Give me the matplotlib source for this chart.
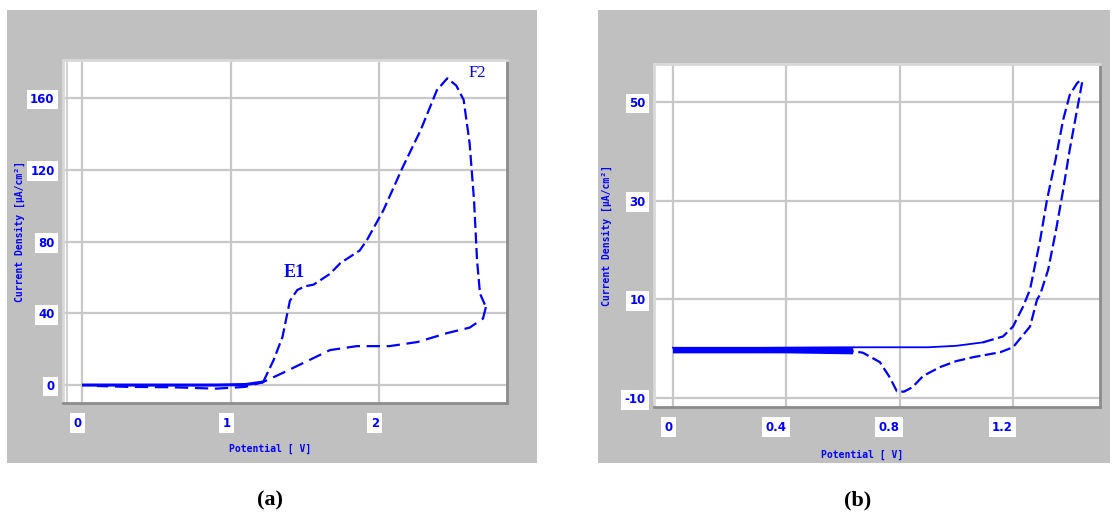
import matplotlib
matplotlib.use("Agg")
import matplotlib.pyplot as plt
from matplotlib.patches import Rectangle

# ---------------- data ----------------
# Panel (a)
a_fwd_x = [0.0, 0.3, 0.6, 0.9, 1.1, 1.22, 1.29, 1.35, 1.40, 1.45, 1.50, 1.56, 1.67, 1.74,
           1.87, 1.92, 2.03, 2.16, 2.28, 2.39, 2.46, 2.52, 2.57, 2.61, 2.64, 2.66, 2.68, 2.72]
a_fwd_y = [0, 0, 0, 0, 0.3, 1.7, 13.9, 26.8, 47, 53, 55, 56, 62, 68,
           75, 81, 97.5, 121.5, 142, 164.4, 171, 167, 159, 135, 103, 70, 51, 43.5]
a_rev_x = [2.72, 2.70, 2.61, 2.46, 2.26, 2.07, 1.85, 1.67, 1.49, 1.35, 1.22, 1.1, 0.9, 0.6, 0.3, 0.1]
a_rev_y = [43.5, 37, 32, 29, 24, 21.7, 21.7, 19.5, 12.3, 6.7, 1.7, -1.0, -2.0, -1.2, -1.0, -0.5]
a_xticks = [0, 1, 2]
a_xticklabels = ["0", "1", "2"]
a_yticks = [0, 40, 80, 120, 160]
a_yticklabels = ["0", "40", "80", "120", "160"]

# Panel (b)
b_fwd_x = [0.0, 0.3, 0.6, 0.9, 1.0, 1.094, 1.165, 1.2, 1.236, 1.26, 1.296, 1.32, 1.35,
           1.377, 1.40, 1.426, 1.437]
b_fwd_y = [0.2, 0.2, 0.3, 0.3, 0.6, 1.3, 2.5, 4.5, 8.6, 12.0, 22.1, 30.2, 38.3,
           46.4, 51.4, 53.8, 54.4]
b_rev_x = [1.444, 1.426, 1.40, 1.377, 1.352, 1.324, 1.296, 1.285, 1.26, 1.2, 1.155, 1.06,
           1.0, 0.943, 0.883, 0.845, 0.815, 0.79, 0.765, 0.73, 0.67, 0.636, 0.4, 0.0]
b_rev_y = [54, 48.4, 40.3, 32.2, 24.1, 16, 11, 10, 4.5, 0.3, -0.7, -1.7,
           -2.5, -3.7, -5.5, -7.8, -8.7, -8.6, -5.8, -2.7, -0.8, -0.5, -0.3, -0.3]
b_xticks = [0, 0.4, 0.8, 1.2]
b_xticklabels = ["0", "0.4", "0.8", "1.2"]
b_yticks = [-10, 10, 30, 50]
b_yticklabels = ["-10", "10", "30", "50"]

ylabel_text = "Current Density [µA/cm²]"
xlabel_text = "Potential [ V]"

# ---------------- figure ----------------
W, H = 1117, 518
fig = plt.figure(figsize=(W / 100, H / 100), dpi=100)
fig.patch.set_facecolor("white")

def px_rect(x0, y0, x1, y1, **kw):
    return Rectangle((x0 / W, 1 - y1 / H), (x1 - x0) / W, (y1 - y0) / H,
                     transform=fig.transFigure, **kw)

fig.patches.append(px_rect(7, 10, 537, 463, facecolor="#C0C0C0", edgecolor="none", zorder=-10))
fig.patches.append(px_rect(598, 10, 1110, 463, facecolor="#C0C0C0", edgecolor="none", zorder=-10))

def make_ax(x0, y0, x1, y1):
    ax = fig.add_axes([x0 / W, 1 - y1 / H, (x1 - x0) / W, (y1 - y0) / H])
    ax.set_zorder(5)
    return ax

BLUE = "#0000FF"
GRID = "#C8C8C8"

def style_label(lbl):
    lbl.set_family("DejaVu Sans")
    lbl.set_fontsize(8.5)
    lbl.set_fontweight("bold")
    lbl.set_color(BLUE)
    lbl.set_bbox(dict(facecolor="white", edgecolor="none", pad=2.5))

def style(ax, xticks, xtl, yticks, ytl):
    ax.set_facecolor("white")
    ax.set_xticks(xticks)
    ax.set_xticklabels(xtl)
    ax.set_yticks(yticks)
    ax.set_yticklabels(ytl)
    ax.tick_params(axis="x", length=0, pad=10)
    ax.tick_params(axis="y", length=0, pad=6)
    for lbl in ax.get_xticklabels():
        lbl.set_ha("right")
        style_label(lbl)
    for lbl in ax.get_yticklabels():
        style_label(lbl)
    ax.grid(True, color=GRID, lw=1.6)
    ax.set_axisbelow(True)
    for s in ["left", "top"]:
        ax.spines[s].set_color("#D8D8D8")
        ax.spines[s].set_linewidth(2)
    for s in ["right", "bottom"]:
        ax.spines[s].set_color("#8C8C8C")
        ax.spines[s].set_linewidth(2)

# ----- panel (a) -----
axa = make_ax(63, 60, 507, 403)
axa.set_xlim(-0.128, 2.862)
axa.set_ylim(-10.0, 181.2)
style(axa, a_xticks, a_xticklabels, a_yticks, a_yticklabels)
axa.axvline(-0.1, color=GRID, lw=1.2, zorder=0)
n0 = 5
axa.plot(a_fwd_x[:n0 + 1], a_fwd_y[:n0 + 1], color=BLUE, lw=2.2, solid_capstyle="butt")
axa.plot(a_fwd_x[n0:], a_fwd_y[n0:], color=BLUE, lw=1.6, ls=(0, (5, 2)))
axa.plot(a_rev_x, a_rev_y, color=BLUE, lw=1.6, ls=(0, (6, 3)))
axa.text(1.43, 63, "E1", color=BLUE, fontsize=13, fontweight="bold",
         family="Liberation Serif", ha="center", va="center")
axa.text(2.66, 174, "F2", color=BLUE, fontsize=12,
         family="Liberation Serif", ha="center", va="center")
fig.text(20 / W, 1 - 232 / H, ylabel_text, rotation=90, color=BLUE, fontsize=7,
         fontweight="bold", family="DejaVu Sans Mono", ha="center", va="center")
fig.text(270 / W, 1 - 449 / H, xlabel_text, color=BLUE, fontsize=7,
         fontweight="bold", family="DejaVu Sans Mono", ha="center", va="center")

# ----- panel (b) -----
axb = make_ax(654, 64, 1100, 407)
axb.set_xlim(-0.067, 1.507)
axb.set_ylim(-11.8, 57.7)
style(axb, b_xticks, b_xticklabels, b_yticks, b_yticklabels)
m0 = 5
axb.plot(b_fwd_x[:m0 + 1], b_fwd_y[:m0 + 1], color=BLUE, lw=1.3)
axb.plot(b_fwd_x[m0:], b_fwd_y[m0:], color=BLUE, lw=1.6, ls=(0, (5, 2)))
r0 = 21
axb.plot(b_rev_x[:r0 + 1], b_rev_y[:r0 + 1], color=BLUE, lw=1.6, ls=(0, (5, 2)))
axb.plot(b_rev_x[r0:], b_rev_y[r0:], color=BLUE, lw=4.5, solid_capstyle="butt")
fig.text(607 / W, 1 - 235 / H, ylabel_text, rotation=90, color=BLUE, fontsize=7,
         fontweight="bold", family="DejaVu Sans Mono", ha="center", va="center")
fig.text(862 / W, 1 - 455 / H, xlabel_text, color=BLUE, fontsize=7,
         fontweight="bold", family="DejaVu Sans Mono", ha="center", va="center")

# panel captions
fig.text(270 / W, 1 - 500 / H, "(a)", fontsize=16, fontweight="bold",
         family="Liberation Serif", ha="center", va="center")
fig.text(858 / W, 1 - 500 / H, "(b)", fontsize=16, fontweight="bold",
         family="Liberation Serif", ha="center", va="center")

fig.savefig("out.png", dpi=100)
